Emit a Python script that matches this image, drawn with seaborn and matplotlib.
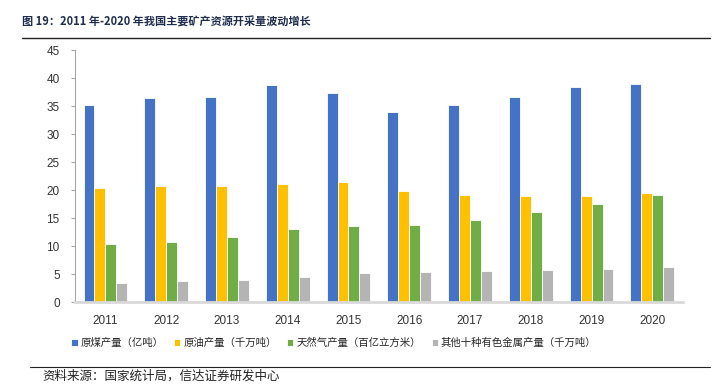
import pandas as pd
import seaborn as sns
import matplotlib.pyplot as plt
from matplotlib.lines import Line2D

years = ['2011', '2012', '2013', '2014', '2015', '2016', '2017', '2018', '2019', '2020']
coal = [35.2, 36.4, 36.7, 38.7, 37.4, 34.0, 35.2, 36.7, 38.4, 38.9]
oil = [20.4, 20.7, 20.8, 21.1, 21.4, 19.9, 19.1, 18.9, 19.0, 19.4]
gas = [10.3, 10.8, 11.7, 13.0, 13.5, 13.7, 14.7, 16.0, 17.5, 19.2]
metals = [3.4, 3.7, 4.0, 4.4, 5.1, 5.3, 5.5, 5.7, 5.9, 6.2]
series_names = ['原煤产量（亿吨）', '原油产量（千万吨）', '天然气产量（百亿立方米）', '其他十种有色金属产量（千万吨）']
colors = ['#4472C4', '#FFC000', '#70AD47', '#B4B4B4']

rows = []
for name, vals in zip(series_names, [coal, oil, gas, metals]):
    for y, v in zip(years, vals):
        rows.append({'year': y, 'series': name, 'value': v})
df = pd.DataFrame(rows)

sns.set_style('white')
plt.rcParams['font.family'] = ['Noto Sans CJK SC', 'DejaVu Sans']

fig = plt.figure(figsize=(7.24, 3.87), dpi=100)
ax = fig.add_axes([0.1036, 0.2196, 0.8394, 0.651])

sns.barplot(data=df, x='year', y='value', hue='series', palette=colors,
            width=0.72, ax=ax, edgecolor='white', linewidth=0.6, saturation=1)

ax.set_ylim(0, 45)
ax.set_xlim(-0.5, 9.5)
ax.set_yticks(range(0, 46, 5))
ax.set_xlabel('')
ax.set_ylabel('')
for s in ['top', 'right']:
    ax.spines[s].set_visible(False)
ax.spines['left'].set_color('#A6A6A6')
ax.spines['left'].set_linewidth(0.8)
ax.spines['bottom'].set_color('#D9D9D9')
ax.spines['bottom'].set_linewidth(2)
ax.tick_params(axis='y', left=True, length=3, color='#A6A6A6', labelsize=8.5,
               labelcolor='#333333', pad=8)
ax.tick_params(axis='x', bottom=False, labelsize=8.5, labelcolor='#333333', pad=6)
for lab in ax.get_xticklabels() + ax.get_yticklabels():
    lab.set_family('Liberation Sans')

ax.legend(loc='center', bbox_to_anchor=(0.426, -0.163), ncol=4, frameon=False,
          fontsize=7.5, handlelength=0.6, handleheight=0.6, handletextpad=0.3,
          columnspacing=1.0)

fig.text(0.03, 0.943, '图 19：2011 年-2020 年我国主要矿产资源开采量波动增长',
         fontsize=8, fontweight='bold', color='#1F2D4D', va='center')
fig.add_artist(Line2D([0.03, 0.981], [0.902, 0.902], color='#222222', lw=1.0))
fig.add_artist(Line2D([0.041, 0.981], [0.052, 0.052], color='#222222', lw=0.8))
fig.text(0.058, 0.028, '资料来源：国家统计局，信达证券研发中心', fontsize=9,
         style='italic', color='#222222', va='center')

fig.savefig('out.png', dpi=100)
